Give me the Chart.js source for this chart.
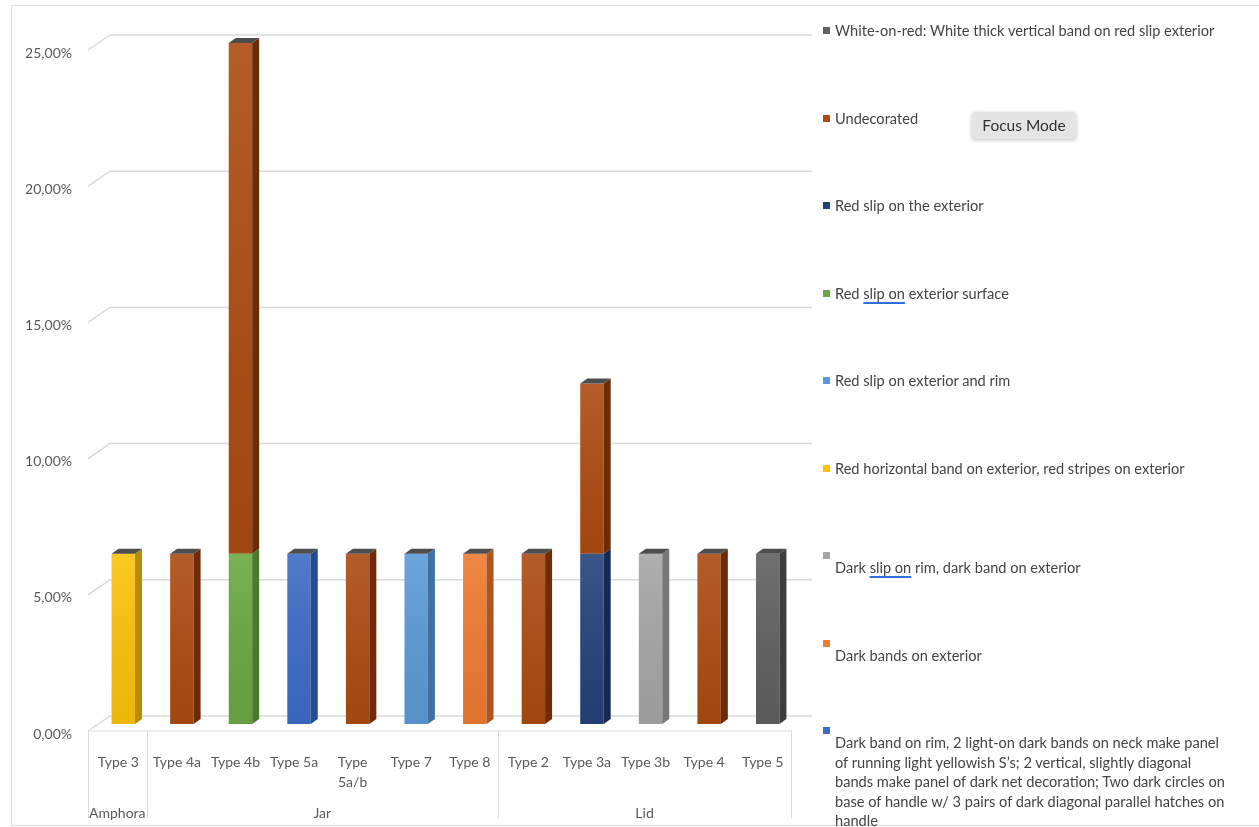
<!DOCTYPE html>
<html>
<head>
<meta charset="utf-8">
<script src="https://cdn.jsdelivr.net/npm/chart.js@4.4.1/dist/chart.umd.min.js"></script>
<style>
  html, body { margin: 0; padding: 0; background: #fff; }
  #wrap { position: relative; width: 1259px; height: 827px; overflow: hidden; font-family: Lato, "Open Sans", sans-serif; }
  #frame { position: absolute; left: 11px; top: 5px; width: 1270px; height: 821px; border: 1px solid #dcdcdc; box-sizing: border-box; }
  canvas { position: absolute; left: 0; top: 0; }
  #legend { position: absolute; left: 823px; top: 0; width: 430px; }
  .item { position: absolute; left: 0; display: flex; align-items: flex-start; }
  .box { width: 7px; height: 7px; margin-top: 6px; margin-right: 5px; flex: none; }
  .txt { width: 396px; font-size: 14.6px; line-height: 19.5px; color: #444; }
  .txt.drop { margin-top: 12px; }
  .spell { text-decoration: underline; text-decoration-color: #2f6fe0; text-decoration-thickness: 1.5px; text-underline-offset: 3px; }
  #focus { position: absolute; left: 972px; top: 112px; width: 104px; height: 27px; background: #e4e4e4; border-radius: 4px;
           box-shadow: 0 1px 4px rgba(0,0,0,0.25); font-size: 15.5px; color: #333; text-align: center; line-height: 27px; }
</style>
</head>
<body>
<div id="wrap">
  <div id="frame"></div>
  <canvas id="chart" width="1259" height="827"></canvas>
  <div id="legend"></div>
  <div id="focus">Focus Mode</div>
</div>
<script>
// categories on the x axis and their groups
const categories = ['Type 3', 'Type 4a', 'Type 4b', 'Type 5a', ['Type', '5a/b'], 'Type 7', 'Type 8',
                    'Type 2', 'Type 3a', 'Type 3b', 'Type 4', 'Type 5'];
const groups = ['Amphora', 'Jar', 'Lid'];
const groupSizes = [1, 6, 5];
const yTicks = [0, 5, 10, 15, 20, 25];

// series (stack order, bottom first) - values in %
const seriesNames = [
  '\nDark band on rim, 2 light-on dark bands on neck make panel of running light yellowish S\u2019s; 2 vertical, slightly diagonal bands make panel of dark net decoration; Two dark circles on base of handle w/ 3 pairs of dark diagonal parallel hatches on handle',
  '\nDark bands on exterior',
  '\nDark slip on rim, dark band on exterior',
  'Red horizontal band on exterior, red stripes on exterior',
  'Red slip on exterior and rim',
  'Red slip on exterior surface',
  'Red slip on the exterior',
  'Undecorated',
  'White-on-red: White thick vertical band on red slip exterior'
];
const darkBandRim      = [0, 0, 0, 6.25, 0, 0, 0, 0, 0, 0, 0, 0];
const darkBandsExt     = [0, 0, 0, 0, 0, 0, 6.25, 0, 0, 0, 0, 0];
const darkSlipRim      = [0, 0, 0, 0, 0, 0, 0, 0, 0, 6.25, 0, 0];
const redHorizBand     = [6.25, 0, 0, 0, 0, 0, 0, 0, 0, 0, 0, 0];
const redSlipExtRim    = [0, 0, 0, 0, 0, 6.25, 0, 0, 0, 0, 0, 0];
const redSlipExtSurf   = [0, 0, 6.25, 0, 0, 0, 0, 0, 0, 0, 0, 0];
const redSlipTheExt    = [0, 0, 0, 0, 0, 0, 0, 0, 6.25, 0, 0, 0];
const undecorated      = [0, 6.25, 18.75, 0, 6.25, 0, 0, 6.25, 6.25, 0, 6.25, 0];
const whiteOnRed       = [0, 0, 0, 0, 0, 0, 0, 0, 0, 0, 0, 6.25];
const seriesValues = [darkBandRim, darkBandsExt, darkSlipRim, redHorizBand, redSlipExtRim,
                      redSlipExtSurf, redSlipTheExt, undecorated, whiteOnRed];

const frontColors = ['#3b6cc6', '#ee7b30', '#a6a6a6', '#fcc20a', '#5b9bd5', '#6aa843', '#24427a', '#ad4b12', '#606060'];
const sideColors  = ['#274c8e', '#ad5420', '#777777', '#b98c06', '#3e71a0', '#497a2d', '#152a52', '#6c2c06', '#3d3d3d'];
const grammarMarked = ['Red slip on exterior surface', '\nDark slip on rim, dark band on exterior'];

const depthX = 7, depthY = 5;
const labelColor = '#595959';
const fontFamily = 'Lato, "Open Sans", sans-serif';

const fmtPct = v => v.toFixed(2).replace('.', ',') + '%';

// light back-wall gridlines + category label boxes
const wallGrid = {
  id: 'wallGrid',
  beforeDatasetsDraw(chart) {
    const { ctx, scales: { x, y } } = chart;
    ctx.save();
    ctx.strokeStyle = '#dadada';
    ctx.lineWidth = 1.5;
    y.ticks.forEach(t => {
      const p = y.getPixelForValue(t.value);
      ctx.beginPath();
      ctx.moveTo(x.left - 6, p + 7);
      ctx.lineTo(x.left + 16, p - 8);
      ctx.lineTo(x.right + 15, p - 8);
      ctx.stroke();
    });
    // label boxes under the floor
    const step = (x.right - x.left) / categories.length;
    const y0 = y.getPixelForValue(0) + 7;
    ctx.lineWidth = 1;
    ctx.beginPath();
    ctx.moveTo(x.left - 6, y0);
    ctx.lineTo(x.right - 5, y0);
    let idx = 0;
    const bounds = [0];
    groupSizes.forEach(s => { idx += s; bounds.push(idx); });
    bounds.forEach(b => {
      const bx = Math.round(x.left - 6 + b * step) + 0.5;
      ctx.moveTo(bx, y0);
      ctx.lineTo(bx, 818);
    });
    ctx.stroke();
    ctx.fillStyle = labelColor;
    ctx.font = '14px ' + fontFamily;
    ctx.textAlign = 'center';
    ctx.textBaseline = 'middle';
    groups.forEach((g, gi) => {
      const cx = x.left - 6 + (bounds[gi] + bounds[gi + 1]) / 2 * step;
      ctx.fillText(g, cx, 813);
    });
    ctx.restore();
  }
};

// side and top faces to mimic the 3-D columns
const bar3d = {
  id: 'bar3d',
  afterDatasetsDraw(chart) {
    const ctx = chart.ctx;
    const topIdx = [];
    chart.data.datasets.forEach((ds, di) => ds.data.forEach((v, i) => { if (v > 0) topIdx[i] = di; }));
    ctx.save();
    chart.data.datasets.forEach((ds, di) => {
      const meta = chart.getDatasetMeta(di);
      meta.data.forEach((el, i) => {
        if (!(ds.data[i] > 0)) return;
        const l = el.x - el.width / 2, r = el.x + el.width / 2;
        // slight shading on the front face
        const g = ctx.createLinearGradient(0, el.y, 0, el.base);
        g.addColorStop(0, 'rgba(255,255,255,0.10)');
        g.addColorStop(1, 'rgba(0,0,0,0.06)');
        ctx.fillStyle = g;
        ctx.fillRect(l, el.y, el.width, el.base - el.y);
        ctx.fillStyle = sideColors[di];
        ctx.beginPath();
        ctx.moveTo(r, el.y);
        ctx.lineTo(r + depthX, el.y - depthY);
        ctx.lineTo(r + depthX, el.base - depthY);
        ctx.lineTo(r, el.base);
        ctx.closePath();
        ctx.fill();
        if (topIdx[i] === di) {
          ctx.fillStyle = '#4d4d4d';
          ctx.beginPath();
          ctx.moveTo(l, el.y);
          ctx.lineTo(l + depthX, el.y - depthY);
          ctx.lineTo(r + depthX, el.y - depthY);
          ctx.lineTo(r, el.y);
          ctx.closePath();
          ctx.fill();
        }
      });
    });
    ctx.restore();
  }
};

new Chart(document.getElementById('chart'), {
  type: 'bar',
  data: {
    labels: categories,
    datasets: seriesNames.map((name, i) => ({
      label: name,
      data: seriesValues[i],
      backgroundColor: frontColors[i],
      borderWidth: 0,
      categoryPercentage: 1,
      barPercentage: 0.4
    }))
  },
  options: {
    responsive: false,
    animation: false,
    layout: { padding: { left: 12, right: 462, top: 43, bottom: 0 } },
    plugins: { legend: { display: false }, tooltip: { enabled: false } },
    scales: {
      x: {
        stacked: true,
        grid: { display: false, drawTicks: false },
        border: { display: false },
        ticks: { padding: 29, labelOffset: -5, maxRotation: 0, autoSkip: false, color: labelColor,
                 font: { family: fontFamily, size: 14, lineHeight: 1.4 } },
        afterFit: s => { s.height = 103; }
      },
      y: {
        stacked: true,
        min: 0,
        max: 25,
        grid: { display: false, drawTicks: false },
        border: { display: false },
        afterBuildTicks: s => { s.ticks = yTicks.map(v => ({ value: v })); },
        ticks: { padding: 22, labelOffset: 10, color: labelColor,
                 font: { family: fontFamily, size: 14 }, callback: v => fmtPct(v) },
        afterFit: s => { s.width = 82; }
      }
    }
  },
  plugins: [wallGrid, bar3d]
});

// legend on the right, reversed like the original
const legend = document.getElementById('legend');
seriesNames.slice().reverse().forEach((name, k) => {
  const si = seriesNames.length - 1 - k;
  const item = document.createElement('div');
  item.className = 'item';
  item.style.top = (31 + 87.5 * k - 9.75) + 'px';
  const box = document.createElement('div');
  box.className = 'box';
  box.style.background = frontColors[si];
  const txt = document.createElement('div');
  txt.className = 'txt' + (name.startsWith('\n') ? ' drop' : '');
  const clean = name.replace(/^\n/, '');
  if (grammarMarked.includes(name)) {
    txt.innerHTML = clean.replace('slip on', '<span class="spell">slip on</span>');
  } else {
    txt.textContent = clean;
  }
  item.appendChild(box);
  item.appendChild(txt);
  legend.appendChild(item);
});
</script>
</body>
</html>
